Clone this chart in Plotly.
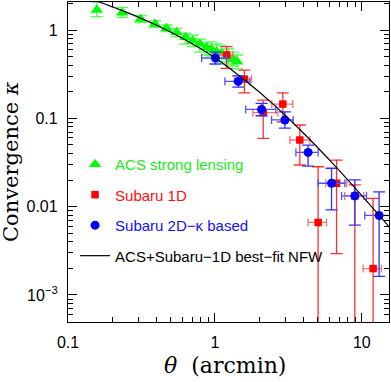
import plotly.graph_objects as go

# ---------------- data ----------------
acs_theta = [0.157, 0.234, 0.312, 0.391, 0.469, 0.548, 0.630, 0.705, 0.790, 0.877, 0.948, 1.027, 1.110, 1.232, 1.332, 1.418]
acs_kappa = [1.685, 1.570, 1.332, 1.169, 1.045, 0.942, 0.827, 0.757, 0.694, 0.637, 0.605, 0.568, 0.545, 0.499, 0.466, 0.438]
acs_kappa_lo = [1.414, 1.393, 1.210, 1.073, 0.957, 0.840, 0.694, 0.647, 0.563, 0.521, 0.508, 0.482, 0.434, 0.412, 0.391, 0.362]
acs_kappa_hi = [2.075, 1.807, 1.452, 1.274, 1.139, 1.045, 0.918, 0.878, 0.791, 0.713, 0.732, 0.694, 0.659, 0.609, 0.563, 0.521]

s1d_theta = [1.201, 1.588, 2.132, 2.90, 3.785, 5.04, 6.73, 8.96, 11.94]
s1d_kappa = [0.521, 0.278, 0.116, 0.145, 0.0568, 0.00662, 0.0184, 0.01324, 0.00199]
s1d_kappa_lo = [0.368, 0.194, 0.0594, 0.0909, 0.0296, 0.0, 0.00294, 0.0, 0.0]
s1d_kappa_hi = [0.647, 0.352, 0.161, 0.194, 0.0840, 0.0283, 0.0337, 0.0176, 0.0124]
s1d_theta_lo = [1.048, 1.368, 1.813, 2.44, 3.24, 4.31, 5.69, 7.65, 10.2]
s1d_theta_hi = [1.326, 1.777, 2.683, 3.39, 4.43, 5.75, 7.90, 10.3, 13.6]

s2d_theta = [1.008, 1.44, 2.078, 2.994, 4.31, 6.22, 8.96, 13.11]
s2d_kappa = [0.482, 0.262, 0.126, 0.0958, 0.0411, 0.0184, 0.01324, 0.00795]
s2d_kappa_lo = [0.412, 0.226, 0.107, 0.0775, 0.0288, 0.00919, 0.00619, 0.00162]
s2d_kappa_hi = [0.563, 0.302, 0.148, 0.118, 0.0497, 0.0272, 0.0201, 0.0147]
s2d_theta_lo = [0.812, 1.17, 1.62, 2.43, 3.56, 5.04, 7.28, 10.48]
s2d_theta_hi = [1.20, 1.73, 2.60, 3.41, 5.04, 7.66, 10.76, 15.5]

nfw_theta = [0.15, 0.251, 0.398, 0.631, 1.0, 1.585, 2.512, 3.981, 6.31, 10.0, 15.5]
nfw_kappa = [2.18, 1.585, 1.138, 0.769, 0.485, 0.273, 0.143, 0.0687, 0.0311, 0.01334, 0.00581]

x_tickvals = [0.1, 1, 10]
x_ticktext = ["0.1", "1", "10"]
y_tickvals = [1, 0.1, 0.01, 0.001]
y_ticktext = ["1", "0.1", "0.01", "10<sup>\u22123</sup>"]

GREEN = "#00ff00"
RED = "#ff0000"
BLUE = "#0000ff"


def up(v, hi):
    return [h - a for a, h in zip(v, hi)]


def down(v, lo):
    return [a - l for a, l in zip(v, lo)]


fig = go.Figure()

fig.add_trace(go.Scatter(
    x=acs_theta, y=acs_kappa, mode="markers",
    name="<span style='color:#1ee81e'>ACS strong lensing</span>",
    legendgroup="a",
    marker=dict(symbol="triangle-up", size=11, color=GREEN),
    error_y=dict(type="data", symmetric=False,
                 array=up(acs_kappa, acs_kappa_hi), arrayminus=down(acs_kappa, acs_kappa_lo),
                 color="#55ff55", thickness=1.3, width=6),
))

fig.add_trace(go.Scatter(
    x=s1d_theta, y=s1d_kappa, mode="markers",
    name="<span style='color:#ff1010'>Subaru 1D</span>",
    legendgroup="b",
    marker=dict(symbol="square", size=7.5, color=RED),
    error_y=dict(type="data", symmetric=False,
                 array=up(s1d_kappa, s1d_kappa_hi), arrayminus=down(s1d_kappa, s1d_kappa_lo),
                 color="#ff3030", thickness=1.3, width=6),
    error_x=dict(type="data", symmetric=False,
                 array=up(s1d_theta, s1d_theta_hi), arrayminus=down(s1d_theta, s1d_theta_lo),
                 color="#ff7070", thickness=1.3, width=4),
))

fig.add_trace(go.Scatter(
    x=s2d_theta, y=s2d_kappa, mode="markers",
    name="<span style='color:#1010ff'>Subaru 2D\u2212\u03ba based</span>",
    legendgroup="c",
    marker=dict(symbol="circle", size=9, color=BLUE),
    error_y=dict(type="data", symmetric=False,
                 array=up(s2d_kappa, s2d_kappa_hi), arrayminus=down(s2d_kappa, s2d_kappa_lo),
                 color="#3030ff", thickness=1.3, width=6),
    error_x=dict(type="data", symmetric=False,
                 array=up(s2d_theta, s2d_theta_hi), arrayminus=down(s2d_theta, s2d_theta_lo),
                 color="#5050ff", thickness=1.3, width=4),
))

fig.add_trace(go.Scatter(
    x=nfw_theta, y=nfw_kappa, mode="lines",
    name="<span style='color:#000000'>ACS+Subaru\u22121D best\u2212fit NFW</span>",
    legendgroup="d",
    line=dict(color="black", width=1.2, shape="spline", smoothing=0.8),
))

minor_vals = [k * 10 ** e for e in range(-5, 3) for k in range(2, 10)]

axis_common = dict(
    type="log", showgrid=False, zeroline=False,
    showline=True, linecolor="black", linewidth=1.3, mirror="ticks",
    ticks="inside", ticklen=9, tickwidth=1.2, tickcolor="black",
    tickmode="array",
    tickfont=dict(family="Liberation Sans, Arial, sans-serif", size=16, color="black"),
    minor=dict(ticks="inside", ticklen=5, tickwidth=1.1, tickcolor="black",
               tickmode="array", tickvals=minor_vals, showgrid=False),
)

fig.update_xaxes(range=[-1, 1.185], tickvals=x_tickvals, ticktext=x_ticktext,
                 ticklabelstandoff=6, **axis_common)
fig.update_yaxes(range=[-3.306, 0.317], tickvals=y_tickvals, ticktext=y_ticktext,
                 ticklabelstandoff=6, **axis_common)

fig.update_layout(
    width=391, height=382,
    margin=dict(l=68, r=2, t=2, b=60),
    paper_bgcolor="white", plot_bgcolor="white",
    showlegend=True,
    legend=dict(x=0.022, y=0.544, xanchor="left", yanchor="top",
                bgcolor="rgba(0,0,0,0)", borderwidth=0,
                traceorder="grouped", tracegroupgap=8,
                font=dict(family="Liberation Sans, Arial, sans-serif", size=15)),
    annotations=[
        dict(text="Convergence <i>\u03ba</i>", xref="paper", yref="paper", x=0, y=0.5,
             xanchor="center", yanchor="middle", xshift=-57, textangle=-90,
             showarrow=False,
             font=dict(family="DejaVu Serif, serif", size=21, color="black")),
        dict(text="<i>\u03b8</i>\u00a0\u00a0(arcmin)", xref="paper", yref="paper",
             x=0.489, y=0, xanchor="center", yanchor="middle", yshift=-43,
             showarrow=False,
             font=dict(family="DejaVu Serif, serif", size=22, color="black")),
    ],
)

fig.write_html("out.html", config={"displayModeBar": False},
               post_script="document.body.style.margin='0';document.body.style.padding='0';")
